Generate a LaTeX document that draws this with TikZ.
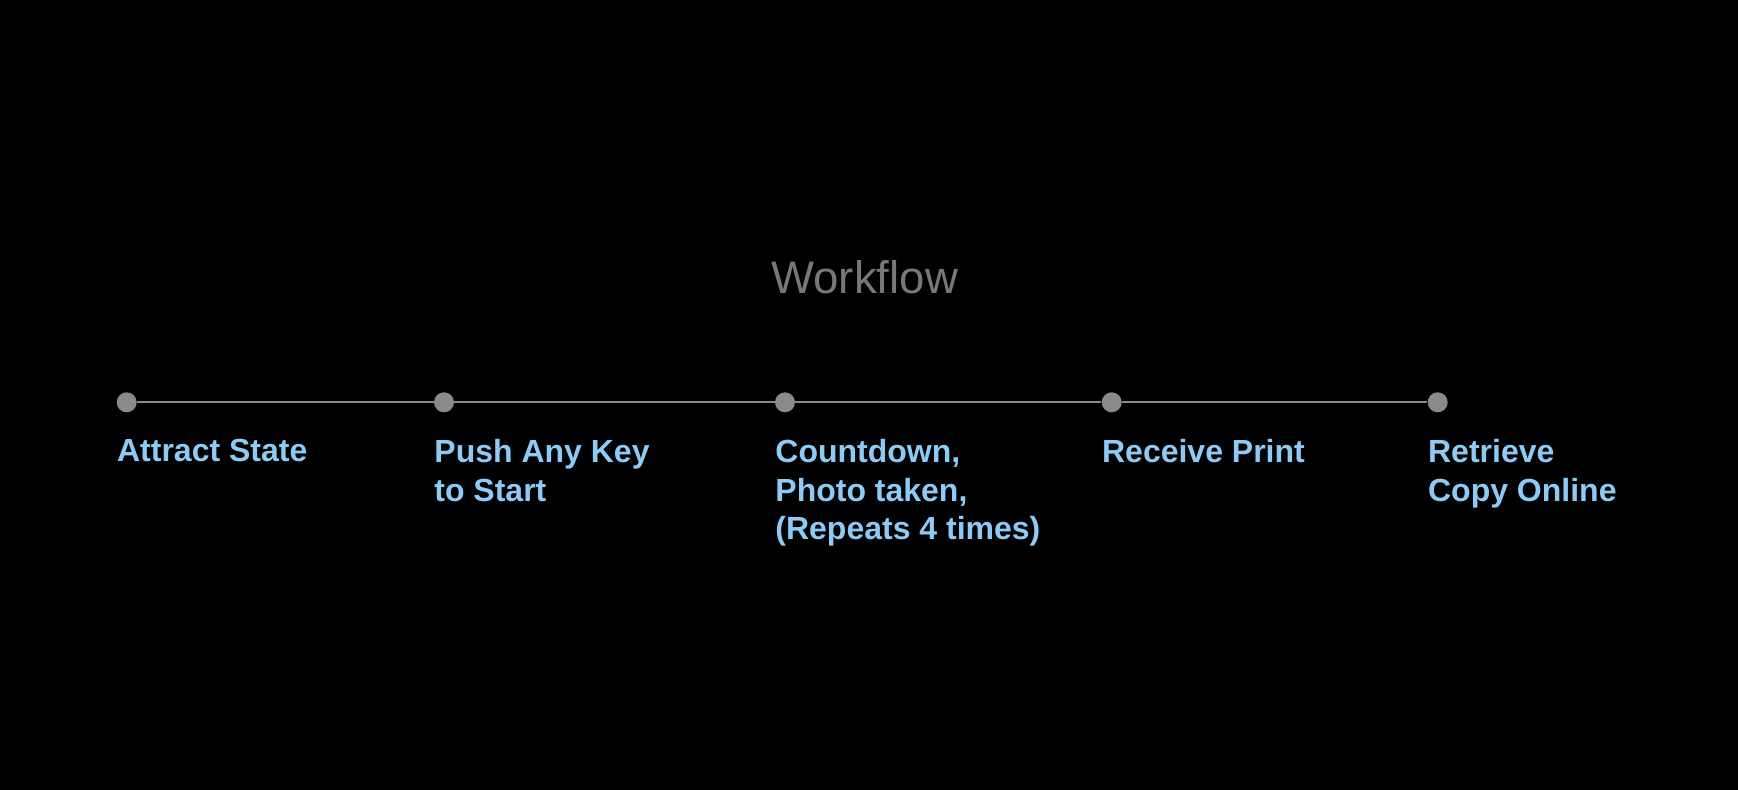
\documentclass[tikz,border=0pt]{standalone}
\usepackage{fontspec}
\setmainfont{Liberation Sans}
\usepackage{tikz}
\usetikzlibrary{shapes,calc,positioning}
\definecolor{stepblue}{HTML}{8BCBF5}
\definecolor{dotgray}{HTML}{8A8A8A}
\definecolor{titlegray}{HTML}{787878}
\tikzstyle{line} = [draw, dotgray, line width=1.15pt]
\tikzstyle{dot} = [circle, fill=dotgray, minimum size=10pt, inner sep=0pt]
\tikzstyle{caption} = [text=stepblue, font=\bfseries\fontsize{16}{19.25}\selectfont, align=left, inner sep=0pt, anchor=north west, xshift=-5pt]
\tikzstyle{heading} = [text=titlegray, font=\fontsize{22.8}{27}\selectfont, anchor=base]

\begin{document}
\begin{tikzpicture}[x=0.5pt, y=-0.5pt, node distance=18.4pt]
        \fill[black] (0,0) rectangle (1738,790);
        \useasboundingbox (0,0) rectangle (1738,790);
        \node[heading] (title) at (864.6,293.3) {Workflow};
        \node[dot] (attract) at (126.7,402.3) {};
        \node[dot, right of=attract, node distance=158.65pt] (push) {};
        \node[dot, right of=push, node distance=170.5pt] (count) {};
        \node[dot, right of=count, node distance=163.35pt] (print) {};
        \node[dot, right of=print, node distance=163pt] (online) {};
        \path[line] (attract) -- (push);
        \path[line] (push) -- (count);
        \path[line] (count) -- (print);
        \path[line] (print) -- (online);
        \node[below of=attract, caption] (attractlbl) {Attract State};
        \node[below of=push, caption] (pushlbl) {Push Any Key\\to Start};
        \node[below of=count, caption] (countlbl) {Countdown,\\Photo taken,\\(Repeats 4 times)};
        \node[below of=print, caption] (printlbl) {Receive Print};
        \node[below of=online, caption] (onlinelbl) {Retrieve\\Copy Online};
    \end{tikzpicture}
\end{document}
